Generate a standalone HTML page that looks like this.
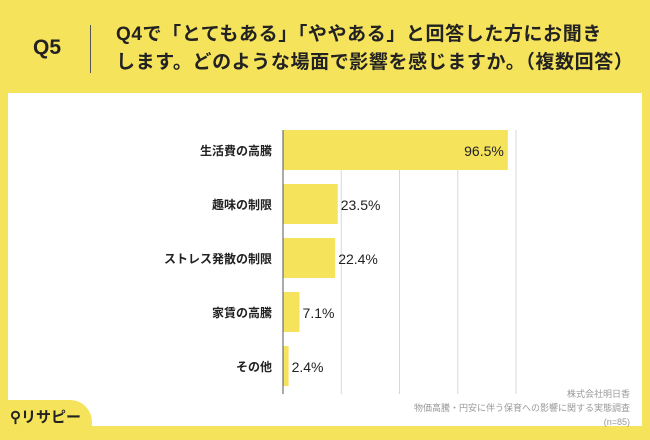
<!DOCTYPE html>
<html><head><meta charset="utf-8"><style>
body{margin:0;width:650px;height:434px;background:#F6E35C;position:relative;overflow:hidden;font-family:"Liberation Sans","Noto Sans CJK JP",sans-serif}
.t{position:absolute}
</style></head><body>
<div class="t" style="left:33px;top:36px;font-size:21px;font-weight:bold;color:#222">Q5</div>
<div class="t" style="left:90px;top:25px;width:1px;height:48px;background:#555"></div>
<div class="t" style="left:116px;top:21px;font-size:19px;font-weight:bold;line-height:28px;letter-spacing:0.6px;color:#222;white-space:nowrap">Q4で「とてもある」「ややある」と回答した方にお聞き<br>します。どのような場面で影響を感じますか。（複数回答）</div>
<div class="t" style="left:8px;top:93px;width:634px;height:333px;background:#fff"></div>
<svg class="t" style="left:0;top:0" width="650" height="434" id="c"></svg>
<div class="t" style="right:20px;top:387px;font-size:9px;line-height:14px;color:#999;text-align:right">株式会社明日香<br>物価高騰・円安に伴う保育への影響に関する実態調査<br>(n=85)</div>
<div class="t" style="left:0;top:400px;width:92px;height:40px;background:#F6E35C;border-top-right-radius:22px"></div>
<div class="t" style="left:10px;top:406px;font-size:15px;font-weight:bold;color:#222">⚲リサピー</div>
<script>
const categories=["生活費の高騰","趣味の制限","ストレス発散の制限","家賃の高騰","その他"];
const values=[96.5,23.5,22.4,7.1,2.4];
const ticks=[25,50,75,100];
const svg=document.getElementById('c');const ns='http://www.w3.org/2000/svg';
const x0=283,pxPer=233/100;const x=v=>x0+v*pxPer;
const firstC=150,rowH=54,barH=40;
function mk(t,a){const e=document.createElementNS(ns,t);for(const k in a)e.setAttribute(k,a[k]);svg.appendChild(e);return e;}
ticks.forEach(t=>{const g=mk('line',{x1:x(t),x2:x(t),y1:130,y2:394,stroke:'#d8d8d8','stroke-width':1});

});
categories.forEach((c,i)=>{const yc=firstC+rowH*i;
const b=mk('rect',{x:x0,y:yc-barH/2,width:values[i]*pxPer,height:barH,fill:'#F6E35C'});


const l=mk('text',{x:272,y:yc+5,'text-anchor':'end','font-size':12,'font-weight':'bold',fill:'#222'});l.textContent=c;


const w=values[i]*pxPer;const inside=w>60;
const v=mk('text',{x:inside?x0+w-4:x0+w+3,y:yc+6,'text-anchor':inside?'end':'start','font-size':14,fill:'#222'});v.textContent=values[i].toFixed(1)+'%';

});
const ax=mk('line',{x1:x0,x2:x0,y1:130,y2:394,stroke:'#555','stroke-width':1});


</script>
</body></html>
